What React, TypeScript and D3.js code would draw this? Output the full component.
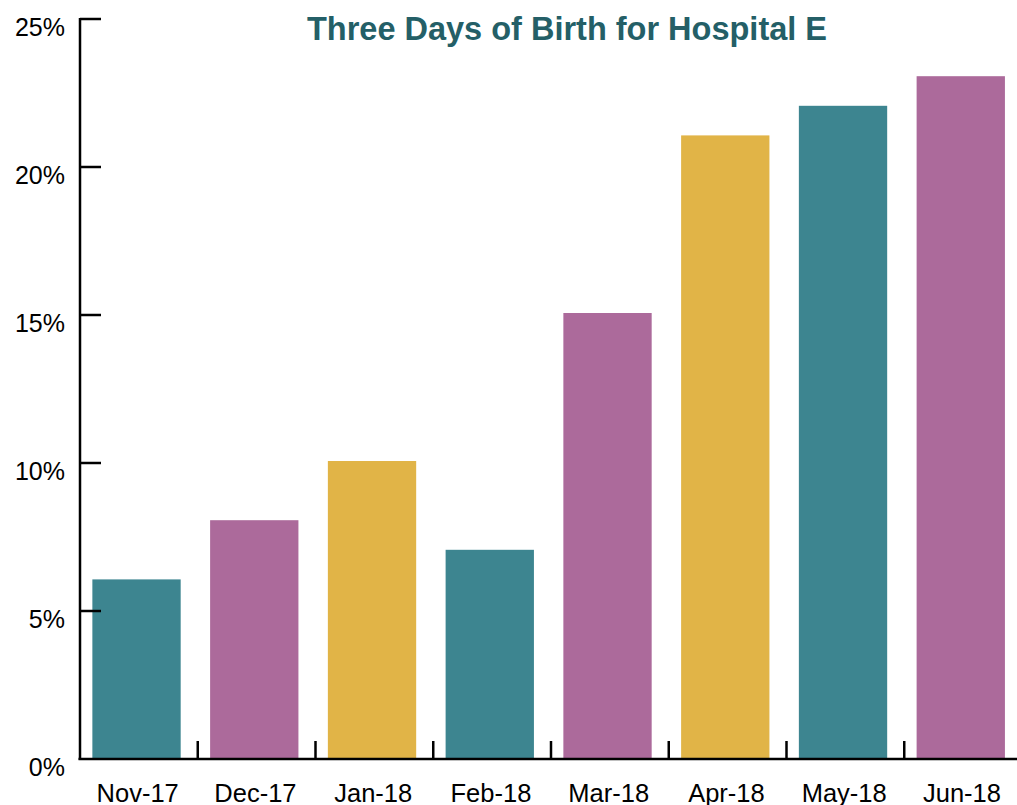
import React, { useEffect, useRef } from 'react';
import * as d3 from 'd3';

const months = ['Nov-17', 'Dec-17', 'Jan-18', 'Feb-18', 'Mar-18', 'Apr-18', 'May-18', 'Jun-18'];
const rates = [6, 8, 10, 7, 15, 21, 22, 23];
const barColors = ['#3d8590', '#ac6a9b', '#e1b447', '#3d8590', '#ac6a9b', '#e1b447', '#3d8590', '#ac6a9b'];
const yTicks = [0, 5, 10, 15, 20, 25];
const titleText = 'Three Days of Birth for Hospital E';

export default function App() {
    const ref = useRef<SVGSVGElement>(null);
    const width = 1017;
    const height = 805;
    const margin = { top: 19, right: -5, bottom: 46, left: 80 };

    useEffect(() => {
        const svg = d3.select(ref.current);
        svg.selectAll('*').remove();
        const font = '"Liberation Sans", Arial, sans-serif';

        const xScale = d3.scaleBand()
            .domain(months)
            .range([margin.left, width - margin.right])
            .padding(0);
        const yScale = d3.scaleLinear()
            .domain([0, 25])
            .range([height - margin.bottom, margin.top]);
        const step = xScale.step();

        // bars
        svg.append('g')
            .selectAll('rect')
            .data(months)
            .enter().append('rect')
            .attr('x', (d) => xScale(d)! + step * 0.105)
            .attr('width', step * 0.75)
            .attr('y', (d, i) => yScale(rates[i]) - 2)
            .attr('height', (d, i) => yScale(0) - yScale(rates[i]) + 2)
            .attr('fill', (d, i) => barColors[i]);

        // y axis
        const yAxis = svg.append('g');
        yAxis.append('line')
            .attr('x1', margin.left).attr('x2', margin.left)
            .attr('y1', yScale(25) - 1).attr('y2', yScale(0) + 1)
            .attr('stroke', '#000').attr('stroke-width', 2.5);
        yAxis.selectAll('.ytick')
            .data(yTicks.filter(t => t > 0))
            .enter().append('line')
            .attr('x1', margin.left).attr('x2', margin.left + 21)
            .attr('y1', (d) => yScale(d)).attr('y2', (d) => yScale(d))
            .attr('stroke', '#000').attr('stroke-width', 2.5);
        yAxis.selectAll('text')
            .data(yTicks)
            .enter().append('text')
            .attr('x', 65)
            .attr('y', (d) => yScale(d) + 17)
            .attr('text-anchor', 'end')
            .style('font-family', font)
            .style('font-size', '25px')
            .text((d) => d + '%');

        // x axis
        const xAxis = svg.append('g');
        xAxis.append('line')
            .attr('x1', margin.left - 1.5).attr('x2', width)
            .attr('y1', yScale(0)).attr('y2', yScale(0))
            .attr('stroke', '#000').attr('stroke-width', 2.5);
        xAxis.selectAll('.xtick')
            .data(months.slice(1))
            .enter().append('line')
            .attr('x1', (d) => xScale(d)!).attr('x2', (d) => xScale(d)!)
            .attr('y1', yScale(0) - 18).attr('y2', yScale(0))
            .attr('stroke', '#000').attr('stroke-width', 2.5);
        xAxis.selectAll('text')
            .data(months)
            .enter().append('text')
            .attr('x', (d) => xScale(d)! + step * 0.49)
            .attr('y', yScale(0) + 43)
            .attr('text-anchor', 'middle')
            .style('font-family', font)
            .style('font-size', '25.5px')
            .text((d) => d);

        // title
        svg.append('text')
            .attr('x', 567)
            .attr('y', 39.5)
            .attr('text-anchor', 'middle')
            .style('font-family', font)
            .style('font-size', '32.5px')
            .style('font-weight', 'bold')
            .attr('fill', '#245f67')
            .text(titleText);
    }, []);

    return (
        <svg ref={ref} width={width} height={height}
            style={{ position: 'absolute', left: 0, top: 0, background: '#fff' }} />
    );
}
